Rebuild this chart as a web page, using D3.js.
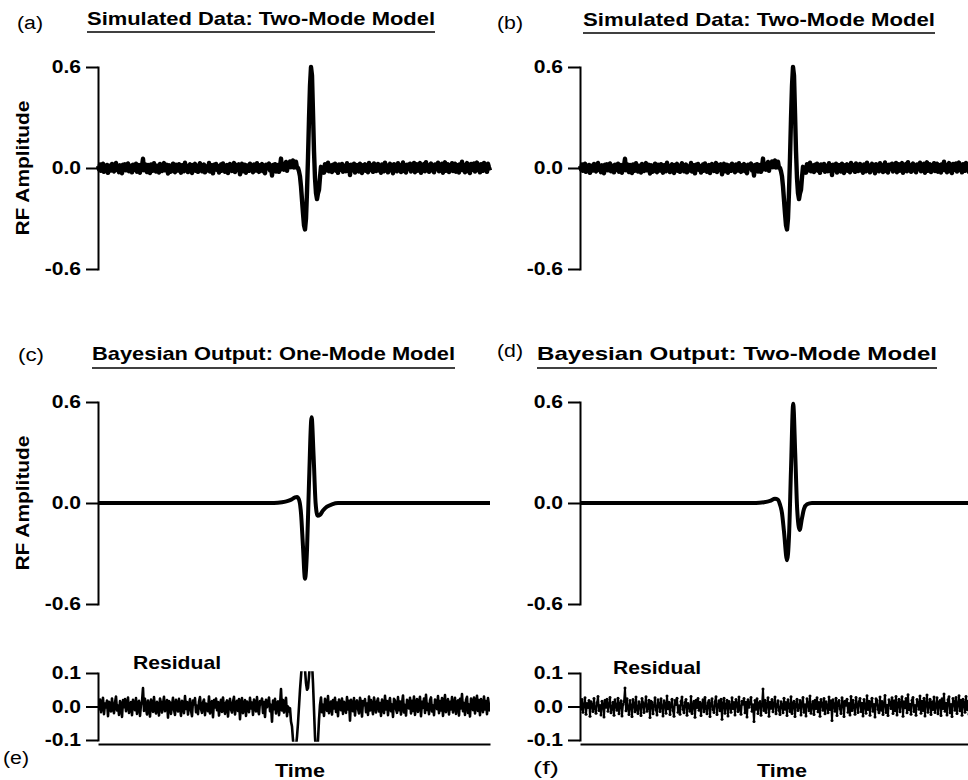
<!DOCTYPE html>
<html>
<head>
<meta charset="UTF-8">
<title>Simulated Data and Bayesian Output</title>
<script src="https://d3js.org/d3.v7.min.js"></script>
<style>
  body { margin: 0; background: #fff; }
  svg { display: block; }
  text { font-family: "Liberation Sans", Arial, Helvetica, sans-serif; fill: #000; }
</style>
</head>
<body>
<div id="chart"></div>
<script>
// tick values
const ampTicks = [-0.6, 0.0, 0.6];
const resTicks = [-0.1, 0.0, 0.1];

// simulated RF data, one value per sample (panels a/b)
const simulated = [
  0.012, -0.008, 0.021, -0.017, 0.004, 0.026, -0.023, 0.009, -0.003, 0.018, -0.029, 0.014, 0.007, -0.015, 0.024, -0.006, -0.020, 0.011, 0.030, -0.012,
  0.003, -0.025, 0.016, 0.008, -0.031, 0.019, -0.002, 0.022, -0.014, 0.005, 0.027, -0.019, -0.007, 0.013, -0.026, 0.020, 0.001, -0.011, 0.025, -0.022,
  0.010, 0.017, -0.028, 0.006, 0.015, 0.055, -0.013, 0.023, -0.005, -0.024, 0.018, 0.002, -0.030, 0.021, 0.009, -0.016, 0.028, -0.009, -0.021, 0.014,
  0.004, -0.027, 0.024, 0.011, -0.018, 0.007, 0.029, -0.014, -0.004, 0.019, -0.033, 0.016, 0.012, -0.022, 0.003, 0.026, -0.010, -0.025, 0.020, 0.008,
  -0.015, 0.023, -0.001, -0.028, 0.017, 0.010, -0.020, 0.031, -0.007, 0.013, -0.024, 0.005, 0.022, -0.012, -0.029, 0.018, 0.006, 0.025, -0.017, 0.002,
  -0.023, 0.015, 0.028, -0.008, -0.019, 0.012, 0.021, -0.026, 0.009, 0.001, -0.014, 0.030, -0.021, 0.007, 0.016, -0.032, 0.019, -0.003, 0.024, -0.011,
  0.013, -0.027, 0.006, 0.020, -0.016, 0.027, -0.005, -0.022, 0.011, 0.018, -0.030, 0.008, 0.023, -0.009, -0.018, 0.014, 0.029, -0.024, 0.003, 0.017,
  -0.013, 0.022, -0.038, 0.010, 0.025, -0.020, 0.004, 0.019, -0.028, 0.015, 0.002, -0.017, 0.026, -0.006, 0.012, -0.025, 0.021, 0.009, -0.015, 0.028,
  -0.010, -0.023, 0.016, 0.007, 0.024, -0.019, 0.013, -0.031, 0.020, -0.002, 0.011, 0.027, -0.014, 0.005, -0.045, 0.018, -0.008, 0.023, -0.021, 0.010,
  0.017, -0.023, 0.007, 0.056, -0.007, 0.025, -0.010, 0.017, 0.036, -0.017, 0.026, 0.010, 0.039, 0.005, 0.032, 0.045, 0.003, 0.026, 0.037, 0.001,
  0.000, -0.020, -0.050, -0.110, -0.190, -0.270, -0.340, -0.365, -0.300, -0.140, 0.060, 0.290, 0.490, 0.600, 0.550, 0.330, 0.100, -0.060, -0.150, -0.185,
  -0.150, -0.130, -0.055, 0.007, -0.027, 0.000, -0.028, 0.023, 0.009, -0.013, 0.031, -0.020, 0.002, 0.015, -0.024, 0.019, -0.006, 0.026, -0.016, 0.012,
  -0.029, 0.021, 0.008, -0.011, 0.024, -0.022, 0.014, 0.003, -0.019, 0.028, -0.009, 0.017, -0.042, 0.020, 0.006, -0.014, 0.025, -0.027, 0.011, 0.018,
  -0.007, -0.021, 0.026, 0.013, -0.030, 0.016, 0.004, 0.022, -0.017, 0.009, -0.025, 0.030, -0.012, 0.019, -0.003, -0.023, 0.027, 0.007, -0.018, 0.014,
  0.024, -0.015, 0.010, -0.028, 0.021, 0.002, -0.020, 0.032, -0.009, 0.016, -0.026, 0.012, 0.025, -0.014, 0.006, -0.031, 0.023, 0.018, -0.008, -0.019,
  0.028, -0.011, 0.015, -0.024, 0.009, 0.033, -0.018, 0.004, -0.027, 0.020, 0.013, -0.006, 0.026, -0.021, 0.017, -0.013, 0.030, -0.025, 0.008, 0.022,
  -0.016, 0.011, 0.029, -0.029, 0.014, -0.004, 0.024, -0.019, 0.035, -0.010, 0.007, -0.023, 0.019, 0.027, -0.015, 0.003, -0.026, 0.021, 0.012, -0.008,
  0.031, -0.020, 0.016, -0.012, 0.025, -0.028, 0.009, 0.034, -0.017, 0.005, 0.022, -0.024, 0.014, -0.009, 0.028, -0.018, 0.001, 0.026, -0.022, 0.013,
  0.018, -0.027, 0.023, -0.006, 0.037, -0.014, 0.010, -0.025, 0.020, 0.029, -0.019, 0.006, -0.030, 0.024, 0.015, -0.011, 0.027, -0.021, 0.008, 0.032,
  -0.013, 0.019, -0.026, 0.022, 0.011, -0.017, 0.030, -0.009, 0.016, -0.023, 0.025, 0.004, -0.015
];

// residual of the one-mode model (panel e)
const residualOne = [
  0.012, -0.008, 0.021, -0.017, 0.004, 0.026, -0.023, 0.009, -0.003, 0.018, -0.029, 0.014, 0.007, -0.015, 0.024, -0.006, -0.020, 0.011, 0.030, -0.012,
  0.003, -0.025, 0.016, 0.008, -0.031, 0.019, -0.002, 0.022, -0.014, 0.005, 0.027, -0.019, -0.007, 0.013, -0.026, 0.020, 0.001, -0.011, 0.025, -0.022,
  0.010, 0.017, -0.028, 0.006, 0.015, 0.055, -0.013, 0.023, -0.005, -0.024, 0.018, 0.002, -0.030, 0.021, 0.009, -0.016, 0.028, -0.009, -0.021, 0.014,
  0.004, -0.027, 0.024, 0.011, -0.018, 0.007, 0.029, -0.014, -0.004, 0.019, -0.033, 0.016, 0.012, -0.022, 0.003, 0.026, -0.010, -0.025, 0.020, 0.008,
  -0.015, 0.023, -0.001, -0.028, 0.017, 0.010, -0.020, 0.031, -0.007, 0.013, -0.024, 0.005, 0.022, -0.012, -0.029, 0.018, 0.006, 0.025, -0.017, 0.002,
  -0.023, 0.015, 0.028, -0.008, -0.019, 0.012, 0.021, -0.026, 0.009, 0.001, -0.014, 0.030, -0.021, 0.007, 0.016, -0.032, 0.019, -0.003, 0.024, -0.011,
  0.013, -0.027, 0.006, 0.020, -0.016, 0.027, -0.005, -0.022, 0.011, 0.018, -0.030, 0.008, 0.023, -0.009, -0.018, 0.014, 0.029, -0.024, 0.003, 0.017,
  -0.013, 0.022, -0.038, 0.010, 0.025, -0.020, 0.004, 0.019, -0.028, 0.015, 0.002, -0.017, 0.026, -0.006, 0.012, -0.025, 0.021, 0.009, -0.015, 0.028,
  -0.010, -0.023, 0.016, 0.007, 0.024, -0.019, 0.013, -0.031, 0.020, -0.002, 0.011, 0.027, -0.014, 0.005, -0.045, 0.018, -0.008, 0.023, -0.021, 0.010,
  0.015, -0.026, 0.004, 0.052, -0.012, 0.019, -0.018, 0.008, 0.026, -0.029, 0.000, -0.015, -0.005, -0.045, -0.060, -0.100, -0.125, -0.140, -0.120, -0.090,
  -0.050, 0.000, 0.050, 0.090, 0.130, 0.150, 0.140, 0.110, 0.070, 0.050, 0.055, 0.090, 0.130, 0.150, 0.130, 0.070, -0.010, -0.090, -0.140, -0.140,
  -0.100, -0.040, 0.005, 0.027, -0.017, 0.005, -0.028, 0.023, 0.009, -0.013, 0.031, -0.020, 0.002, 0.015, -0.024, 0.019, -0.006, 0.026, -0.016, 0.012,
  -0.029, 0.021, 0.008, -0.011, 0.024, -0.022, 0.014, 0.003, -0.019, 0.028, -0.009, 0.017, -0.042, 0.020, 0.006, -0.014, 0.025, -0.027, 0.011, 0.018,
  -0.007, -0.021, 0.026, 0.013, -0.030, 0.016, 0.004, 0.022, -0.017, 0.009, -0.025, 0.030, -0.012, 0.019, -0.003, -0.023, 0.027, 0.007, -0.018, 0.014,
  0.024, -0.015, 0.010, -0.028, 0.021, 0.002, -0.020, 0.032, -0.009, 0.016, -0.026, 0.012, 0.025, -0.014, 0.006, -0.031, 0.023, 0.018, -0.008, -0.019,
  0.028, -0.011, 0.015, -0.024, 0.009, 0.033, -0.018, 0.004, -0.027, 0.020, 0.013, -0.006, 0.026, -0.021, 0.017, -0.013, 0.030, -0.025, 0.008, 0.022,
  -0.016, 0.011, 0.029, -0.029, 0.014, -0.004, 0.024, -0.019, 0.035, -0.010, 0.007, -0.023, 0.019, 0.027, -0.015, 0.003, -0.026, 0.021, 0.012, -0.008,
  0.031, -0.020, 0.016, -0.012, 0.025, -0.028, 0.009, 0.034, -0.017, 0.005, 0.022, -0.024, 0.014, -0.009, 0.028, -0.018, 0.001, 0.026, -0.022, 0.013,
  0.018, -0.027, 0.023, -0.006, 0.037, -0.014, 0.010, -0.025, 0.020, 0.029, -0.019, 0.006, -0.030, 0.024, 0.015, -0.011, 0.027, -0.021, 0.008, 0.032,
  -0.013, 0.019, -0.026, 0.022, 0.011, -0.017, 0.030, -0.009, 0.016, -0.023, 0.025, 0.004, -0.015
];

// residual of the two-mode model (panel f)
const residualTwo = [
  0.012, -0.008, 0.021, -0.017, 0.004, 0.026, -0.023, 0.009, -0.003, 0.018, -0.029, 0.014, 0.007, -0.015, 0.024, -0.006, -0.020, 0.011, 0.030, -0.012,
  0.003, -0.025, 0.016, 0.008, -0.031, 0.019, -0.002, 0.022, -0.014, 0.005, 0.027, -0.019, -0.007, 0.013, -0.026, 0.020, 0.001, -0.011, 0.025, -0.022,
  0.010, 0.017, -0.028, 0.006, 0.015, 0.055, -0.013, 0.023, -0.005, -0.024, 0.018, 0.002, -0.030, 0.021, 0.009, -0.016, 0.028, -0.009, -0.021, 0.014,
  0.004, -0.027, 0.024, 0.011, -0.018, 0.007, 0.029, -0.014, -0.004, 0.019, -0.033, 0.016, 0.012, -0.022, 0.003, 0.026, -0.010, -0.025, 0.020, 0.008,
  -0.015, 0.023, -0.001, -0.028, 0.017, 0.010, -0.020, 0.031, -0.007, 0.013, -0.024, 0.005, 0.022, -0.012, -0.029, 0.018, 0.006, 0.025, -0.017, 0.002,
  -0.023, 0.015, 0.028, -0.008, -0.019, 0.012, 0.021, -0.026, 0.009, 0.001, -0.014, 0.030, -0.021, 0.007, 0.016, -0.032, 0.019, -0.003, 0.024, -0.011,
  0.013, -0.027, 0.006, 0.020, -0.016, 0.027, -0.005, -0.022, 0.011, 0.018, -0.030, 0.008, 0.023, -0.009, -0.018, 0.014, 0.029, -0.024, 0.003, 0.017,
  -0.013, 0.022, -0.038, 0.010, 0.025, -0.020, 0.004, 0.019, -0.028, 0.015, 0.002, -0.017, 0.026, -0.006, 0.012, -0.025, 0.021, 0.009, -0.015, 0.028,
  -0.010, -0.023, 0.016, 0.007, 0.024, -0.019, 0.013, -0.031, 0.020, -0.002, 0.011, 0.027, -0.014, 0.005, -0.045, 0.018, -0.008, 0.023, -0.021, 0.010,
  0.015, -0.026, 0.004, 0.052, -0.012, 0.019, -0.018, 0.008, 0.026, -0.029, 0.013, -0.005, 0.021, -0.016, 0.009, 0.028, -0.022, 0.003, 0.017, -0.011,
  -0.024, 0.014, 0.006, -0.019, 0.025, -0.008, 0.012, -0.027, 0.020, 0.001, -0.015, 0.029, -0.021, 0.010, 0.016, -0.030, 0.007, 0.022, -0.012, -0.003,
  0.018, -0.025, 0.011, 0.027, -0.017, 0.005, -0.028, 0.023, 0.009, -0.013, 0.031, -0.020, 0.002, 0.015, -0.024, 0.019, -0.006, 0.026, -0.016, 0.012,
  -0.029, 0.021, 0.008, -0.011, 0.024, -0.022, 0.014, 0.003, -0.019, 0.028, -0.009, 0.017, -0.042, 0.020, 0.006, -0.014, 0.025, -0.027, 0.011, 0.018,
  -0.007, -0.021, 0.026, 0.013, -0.030, 0.016, 0.004, 0.022, -0.017, 0.009, -0.025, 0.030, -0.012, 0.019, -0.003, -0.023, 0.027, 0.007, -0.018, 0.014,
  0.024, -0.015, 0.010, -0.028, 0.021, 0.002, -0.020, 0.032, -0.009, 0.016, -0.026, 0.012, 0.025, -0.014, 0.006, -0.031, 0.023, 0.018, -0.008, -0.019,
  0.028, -0.011, 0.015, -0.024, 0.009, 0.033, -0.018, 0.004, -0.027, 0.020, 0.013, -0.006, 0.026, -0.021, 0.017, -0.013, 0.030, -0.025, 0.008, 0.022,
  -0.016, 0.011, 0.029, -0.029, 0.014, -0.004, 0.024, -0.019, 0.035, -0.010, 0.007, -0.023, 0.019, 0.027, -0.015, 0.003, -0.026, 0.021, 0.012, -0.008,
  0.031, -0.020, 0.016, -0.012, 0.025, -0.028, 0.009, 0.034, -0.017, 0.005, 0.022, -0.024, 0.014, -0.009, 0.028, -0.018, 0.001, 0.026, -0.022, 0.013,
  0.018, -0.027, 0.023, -0.006, 0.037, -0.014, 0.010, -0.025, 0.020, 0.029, -0.019, 0.006, -0.030, 0.024, 0.015, -0.011, 0.027, -0.021, 0.008, 0.032,
  -0.013, 0.019, -0.026, 0.022, 0.011, -0.017, 0.030, -0.009, 0.016, -0.023, 0.025, 0.004, -0.015
];

// model outputs, given at sample positions (smooth curves)
const oneFitIdx = [0, 176, 184, 190, 194, 197, 199, 201, 203, 205, 207, 209, 211, 213.6, 215.6, 217.6, 219.6, 222, 225, 229, 234, 240, 392];
const oneFitVal = [0, 0, 0.004, 0.012, 0.022, 0.033, 0.035, 0.02, -0.06, -0.26, -0.45, -0.28, 0.12, 0.51, 0.28, 0.0, -0.075, -0.07, -0.045, -0.022, -0.008, 0, 0];
const twoFitIdx = [0, 176, 184, 190, 195, 198, 200, 202, 204, 207, 209, 211, 213.2, 215.2, 217.2, 219.6, 222, 224, 227, 232, 392];
const twoFitVal = [0, 0, 0.005, 0.013, 0.025, 0.02, -0.01, -0.06, -0.17, -0.34, -0.2, 0.2, 0.59, 0.3, -0.04, -0.16, -0.09, -0.035, -0.008, 0, 0];

const titles = ["Simulated Data: Two-Mode Model", "Simulated Data: Two-Mode Model",
                "Bayesian Output: One-Mode Model", "Bayesian Output: Two-Mode Model"];
const tags = ["(a)", "(b)", "(c)", "(d)", "(e)", "(f)"];

const W = 968, H = 780, stretch = 1.14;
const svg = d3.select("#chart").append("svg").attr("width", W).attr("height", H);

const colX = [98, 580], plotW = 392;
const xs = colX.map(x0 => d3.scaleLinear().domain([0, simulated.length - 1]).range([x0, x0 + plotW]));
const yTop = d3.scaleLinear().domain([-0.6, 0.6]).range([269, 67]);
const yMid = d3.scaleLinear().domain([-0.6, 0.6]).range([604, 402]);
const yRes = d3.scaleLinear().domain([-0.1, 0.1]).range([740, 673]);

// the reference lettering is a bit wider than Helvetica
function widen(sel, len) {
  sel.attr("lengthAdjust", "spacingAndGlyphs").each(function () {
    d3.select(this).attr("textLength", len || this.getComputedTextLength() * stretch);
  });
  return sel;
}

function yAxis(c, y, ticks) {
  const g = svg.append("g")
    .attr("transform", `translate(${colX[c]},0)`)
    .call(d3.axisLeft(y).tickValues(ticks).tickSize(12).tickSizeOuter(0).tickPadding(5)
      .tickFormat(d => d.toFixed(1)));
  g.select(".domain").attr("stroke-width", 2).attr("stroke-linecap", "square");
  g.selectAll(".tick line").attr("stroke-width", 2);
  const t = g.selectAll(".tick text").attr("font-size", 18.5).attr("font-weight", "bold");
  widen(t);
}

function xAxis(c) {
  const g = svg.append("g")
    .attr("transform", "translate(0,744)")
    .call(d3.axisBottom(xs[c]).tickValues([]).tickSizeOuter(0));
  g.select(".domain").attr("stroke-width", 2);
}

function dataLine(parent, c, y, values, width) {
  parent.append("path")
    .datum(values)
    .attr("fill", "none").attr("stroke", "#000")
    .attr("stroke-width", width).attr("stroke-linejoin", "round")
    .attr("d", d3.line().x((d, i) => xs[c](i)).y(d => y(d)));
}

function fitLine(c, y, idx, val) {
  svg.append("path")
    .datum(d3.zip(idx, val))
    .attr("fill", "none").attr("stroke", "#000")
    .attr("stroke-width", 4).attr("stroke-linejoin", "round")
    .attr("d", d3.line().x(d => xs[c](d[0])).y(d => y(d[1])).curve(d3.curveMonotoneX));
}

// clip for residual panels
colX.forEach((x0, c) => {
  svg.append("clipPath").attr("id", "clip" + c)
    .append("rect").attr("x", x0).attr("width", plotW)
    .attr("y", yRes(0.105)).attr("height", yRes(-0.105) - yRes(0.105));
});

// (a), (b) simulated data
[0, 1].forEach(c => {
  yAxis(c, yTop, ampTicks);
  dataLine(svg, c, yTop, simulated, 4.4);
});

// (c), (d) model outputs
yAxis(0, yMid, ampTicks);
yAxis(1, yMid, ampTicks);
fitLine(0, yMid, oneFitIdx, oneFitVal);
fitLine(1, yMid, twoFitIdx, twoFitVal);

// (e), (f) residuals
[0, 1].forEach(c => { yAxis(c, yRes, resTicks); xAxis(c); });
dataLine(svg.append("g").attr("clip-path", "url(#clip0)"), 0, yRes, residualOne, 2.6);

const fDots = svg.append("g").attr("clip-path", "url(#clip1)");
dataLine(fDots, 1, yRes, residualTwo, 2.0);
fDots.selectAll("circle").data(residualTwo).join("circle")
  .attr("cx", (d, i) => xs[1](i)).attr("cy", d => yRes(d)).attr("r", 1.5);

// titles with underline
const titlePos = [
  { x: 87, y: 25, len: 348, uy: 32 },
  { x: 583, y: 26, len: 352, uy: 33 },
  { x: 92, y: 360, len: 363, uy: 368 },
  { x: 537, y: 360, len: 400, uy: 368 }
];
titles.forEach((t, i) => {
  const p = titlePos[i];
  widen(svg.append("text").attr("x", p.x).attr("y", p.y)
    .attr("font-size", 19).attr("font-weight", "bold").text(t), p.len);
  svg.append("line").attr("x1", p.x).attr("x2", p.x + p.len)
    .attr("y1", p.uy).attr("y2", p.uy).attr("stroke", "#000").attr("stroke-width", 1.5);
});

// panel tags
const tagPos = [[17, 29], [497, 29], [18, 361], [497, 357], [3, 764], [533, 774]];
tags.forEach((t, i) => {
  widen(svg.append("text").attr("x", tagPos[i][0]).attr("y", tagPos[i][1])
    .attr("font-size", 18).text(t), 26);
});

// axis titles
[168, 503].forEach(cy => {
  widen(svg.append("text")
    .attr("transform", `translate(29,${cy}) rotate(-90)`)
    .attr("text-anchor", "middle").attr("font-size", 18.5).attr("font-weight", "bold")
    .text("RF Amplitude"), 135);
});
[[133, 669], [613, 674]].forEach(p => {
  widen(svg.append("text").attr("x", p[0]).attr("y", p[1])
    .attr("font-size", 18.5).attr("font-weight", "bold").text("Residual"), 88);
});
[300, 782].forEach(cx => {
  widen(svg.append("text").attr("x", cx).attr("y", 777).attr("text-anchor", "middle")
    .attr("font-size", 19).attr("font-weight", "bold").text("Time"), 50);
});
</script>
</body>
</html>
